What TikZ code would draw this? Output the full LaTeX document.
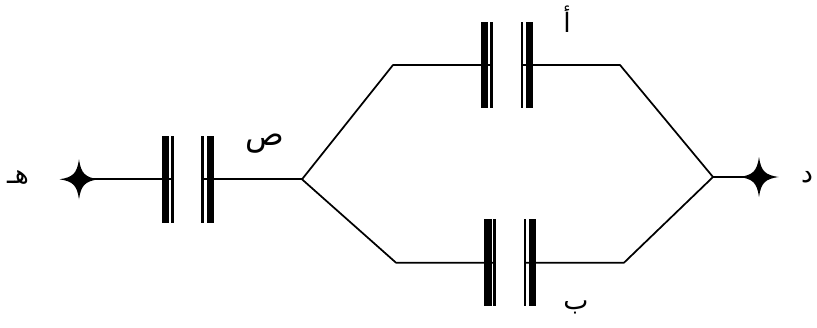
\documentclass[tikz,border=0pt]{standalone}
\usepackage{fontspec}
\newfontfamily\arabicfont[Script=Arabic]{DejaVu Sans}
\TeXXeTstate=1
\tikzset{
  wire/.style={line width=1.3pt,black,line cap=round,line join=round},
  plate/.style={rectangle,fill=black,draw=none,inner sep=0pt,minimum width=#1,minimum height=65.2pt},
  lab/.style={inner sep=0pt,font=\arabicfont\fontsize{20}{24}\selectfont},
  sparkle/.pic={
    \fill[black] (-19.5,0) .. controls (-6,-2) and (-2,-6) .. (0,-20)
      .. controls (2,-6) and (6,-2) .. (19.5,0)
      .. controls (6,2) and (2,6) .. (0,20)
      .. controls (-2,6) and (-6,2) .. (-19.5,0) -- cycle;
  }
}
\begin{document}
\begin{tikzpicture}[x=0.75pt,y=-0.75pt]
\useasboundingbox (0,0) rectangle (817,328);
% junctions
\coordinate (jl) at (302,179.3);
\coordinate (jr) at (713,177);
\coordinate (sl) at (79,179.3);
\coordinate (sr) at (759,177);
\coordinate (tl) at (393,65);
\coordinate (tr) at (620,65);
\coordinate (bl) at (396,262.7);
\coordinate (br) at (624,262.7);
% plates: series capacitor
\node[plate=5.6pt] (p1a) at (165.7,179.3) {};
\node[plate=2pt] (p1b) at (172.6,179.3) {};
\node[plate=2pt] (p1c) at (202.8,179.3) {};
\node[plate=5.6pt] (p1d) at (210.3,179.3) {};
% plates: upper capacitor
\node[plate=5.6pt] (p2a) at (484.7,65) {};
\node[plate=2pt] (p2b) at (491.7,65) {};
\node[plate=2pt] (p2c) at (522,65) {};
\node[plate=5.6pt] (p2d) at (529.5,65) {};
% plates: lower capacitor
\node[plate=5.6pt] (p3a) at (487.8,262.7) {};
\node[plate=2pt] (p3b) at (494.8,262.7) {};
\node[plate=2pt] (p3c) at (525,262.7) {};
\node[plate=5.6pt] (p3d) at (532.5,262.7) {};
% wires
\draw[wire] (sl) -- (p1b.center);
\draw[wire] (p1c.center) -- (jl);
\draw[wire] (jl) -- (tl) -- (p2b.center);
\draw[wire] (p2c.center) -- (tr) -- (jr);
\draw[wire] (jl) -- (bl) -- (p3b.center);
\draw[wire] (p3c.center) -- (br) -- (jr);
\draw[wire] (jr) -- (sr);
% terminals
\pic at (sl) {sparkle};
\pic at (sr) {sparkle};
% labels
\node[lab] (lh) at (18,177) {\beginR هـ\endR};
\node[lab] (ld) at (807,177) {\beginR د\endR};
\node[lab,font=\arabicfont\fontsize{24}{28}\selectfont] (ls) at (265,144) {\beginR ص\endR};
\node[lab] (la) at (567,19) {\beginR أ\endR};
\node[lab] (lb) at (576,307) {\beginR ب\endR};
\end{tikzpicture}
\end{document}
